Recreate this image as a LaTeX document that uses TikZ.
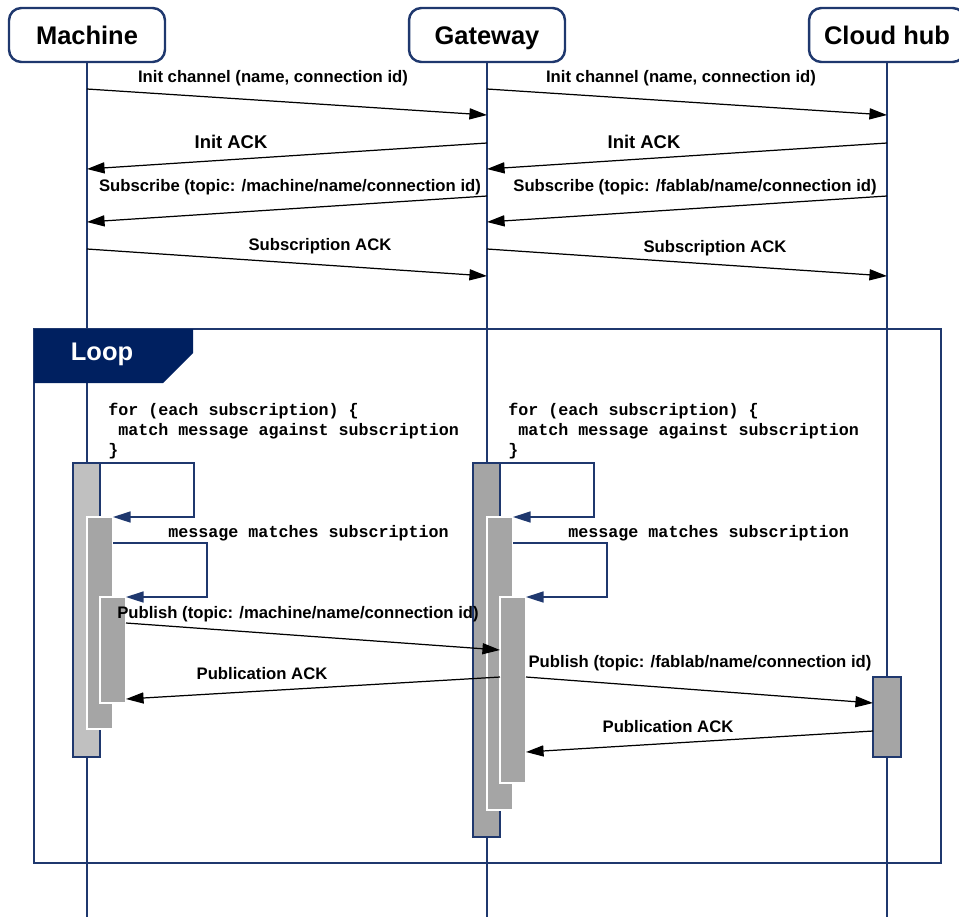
\documentclass[tikz,border=0pt]{standalone}
\usepackage{fontspec}
\setmainfont{Liberation Sans}
\setmonofont{Liberation Mono}
\usetikzlibrary{arrows.meta}
\definecolor{umlblue}{RGB}{31,56,110}
\definecolor{loopnavy}{RGB}{0,32,96}
\definecolor{barlight}{RGB}{192,192,192}
\definecolor{bardark}{RGB}{165,165,165}

\begin{document}
\begin{tikzpicture}[x=0.02cm,y=-0.02cm,
  actor/.style={draw=umlblue,line width=1.4pt,rounded corners=7pt,minimum width=3.12cm,minimum height=1.08cm,text height=10.4pt,text depth=0pt,font=\fontsize{14.5}{17}\selectfont\bfseries},
  lifeline/.style={draw=umlblue,line width=0.8pt},
  msg/.style={draw=black,line width=0.7pt,-{Triangle[length=10pt,width=6.3pt]}},
  selfmsg/.style={draw=umlblue,line width=0.8pt,-{Triangle[length=10pt,width=6.3pt]}},
  lbl/.style={font=\fontsize{9.5}{11}\selectfont\bfseries,inner sep=0pt},
  acklbl/.style={font=\fontsize{10.5}{12}\selectfont\bfseries,inner sep=0pt},
  code/.style={font=\fontsize{9.5}{11.6}\selectfont\ttfamily\bfseries,align=left,anchor=west,inner sep=0pt},
  outerbar/.style={draw=umlblue,line width=0.8pt},
  innerbar/.style={draw=white,line width=1.2pt,fill=bardark}]
\useasboundingbox (0,0) rectangle (959,917);

\node[actor] (machine) at (87,35) {Machine};
\node[actor] (gateway) at (487,35) {Gateway};
\node[actor] (cloud) at (887,35) {Cloud hub};
\coordinate (machineEnd) at (87,917);
\coordinate (gatewayEnd) at (487,917);
\coordinate (cloudEnd) at (887,917);
\draw[lifeline] (machine) -- (machineEnd);
\draw[lifeline] (gateway) -- (gatewayEnd);
\draw[lifeline] (cloud) -- (cloudEnd);

\coordinate (mInit) at (87,89);
\coordinate (gInitIn) at (487,115);
\coordinate (gInit) at (487,89);
\coordinate (cInitIn) at (887,115);
\coordinate (gAckI) at (487,143);
\coordinate (mAckIIn) at (87,169);
\coordinate (cAckI) at (887,143);
\coordinate (gAckIIn) at (487,169);
\coordinate (gSub) at (487,196);
\coordinate (mSubIn) at (87,222);
\coordinate (cSub) at (887,196);
\coordinate (gSubIn) at (487,222);
\coordinate (mSubAck) at (87,249);
\coordinate (gSubAckIn) at (487,276);
\coordinate (gSubAck) at (487,249);
\coordinate (cSubAckIn) at (887,276);

\draw[msg] (mInit) -- (gInitIn);
\node[lbl] (initM) at (273,78) {Init channel (name, connection id)};
\draw[msg] (gInit) -- (cInitIn);
\node[lbl] (initG) at (681,78) {Init channel (name, connection id)};
\draw[msg] (gAckI) -- (mAckIIn);
\node[acklbl] (ackM) at (231,142) {Init ACK};
\draw[msg] (cAckI) -- (gAckIIn);
\node[acklbl] (ackG) at (644,142) {Init ACK};
\draw[msg] (gSub) -- (mSubIn);
\node[lbl] (subM) at (290,187) {Subscribe (topic: /machine/name/connection id)};
\draw[msg] (cSub) -- (gSubIn);
\node[lbl] (subG) at (695,187) {Subscribe (topic: /fablab/name/connection id)};
\draw[msg] (mSubAck) -- (gSubAckIn);
\node[lbl] (subAckM) at (320,246) {Subscription ACK};
\draw[msg] (gSubAck) -- (cSubAckIn);
\node[lbl] (subAckG) at (715,248) {Subscription ACK};

\draw[umlblue,line width=0.8pt] (34,329) rectangle (941,863);
\fill[loopnavy] (34,329) -- (193,329) -- (193,353) -- (163,383) -- (34,383) -- cycle;
\node[text=white,font=\fontsize{14.5}{17}\selectfont\bfseries] (loop) at (102,354) {Loop};

\node[code] (forM) at (108,431) {for (each subscription) \{\\~match message against subscription\\\}};
\node[code] (forG) at (508,431) {for (each subscription) \{\\~match message against subscription\\\}};
\node[code] (matchM) at (168,533) {message matches subscription};
\node[code] (matchG) at (568,533) {message matches subscription};

\draw[outerbar,fill=barlight] (73,463) rectangle (100,757);
\draw[innerbar] (87,517) rectangle (113,729);
\draw[innerbar] (100,597) rectangle (126,703);
\draw[outerbar,fill=bardark] (473,463) rectangle (500,837);
\draw[innerbar] (487,517) rectangle (513,810);
\draw[innerbar] (500,597) rectangle (526,783);
\draw[outerbar,fill=bardark] (873,677) rectangle (901,757);

\coordinate (mSelfA) at (100,463);
\coordinate (mSelfB) at (113,517);
\coordinate (mSelfC) at (113,543);
\coordinate (mSelfD) at (126,597);
\coordinate (gSelfA) at (500,463);
\coordinate (gSelfB) at (513,517);
\coordinate (gSelfC) at (513,543);
\coordinate (gSelfD) at (526,597);
\draw[selfmsg] (mSelfA) -- ++(94,0) |- (mSelfB);
\draw[selfmsg] (mSelfC) -- ++(94,0) |- (mSelfD);
\draw[selfmsg] (gSelfA) -- ++(94,0) |- (gSelfB);
\draw[selfmsg] (gSelfC) -- ++(94,0) |- (gSelfD);

\coordinate (mPub) at (126,623);
\coordinate (gPubIn) at (500,650);
\coordinate (gPubAck) at (500,677);
\coordinate (mPubAckIn) at (126,699);
\coordinate (gPub) at (526,677);
\coordinate (cPubIn) at (873,703);
\coordinate (cPubAck) at (873,731);
\coordinate (gPubAckIn) at (526,752);

\draw[msg] (mPub) -- (gPubIn);
\node[lbl] (pubM) at (298,614) {Publish (topic: /machine/name/connection id)};
\draw[msg] (gPubAck) -- (mPubAckIn);
\node[lbl] (pubAckM) at (262,674) {Publication ACK};
\draw[msg] (gPub) -- (cPubIn);
\node[lbl] (pubG) at (700,663) {Publish (topic: /fablab/name/connection id)};
\draw[msg] (cPubAck) -- (gPubAckIn);
\node[lbl] (pubAckG) at (668,727) {Publication ACK};

\end{tikzpicture}
\end{document}
